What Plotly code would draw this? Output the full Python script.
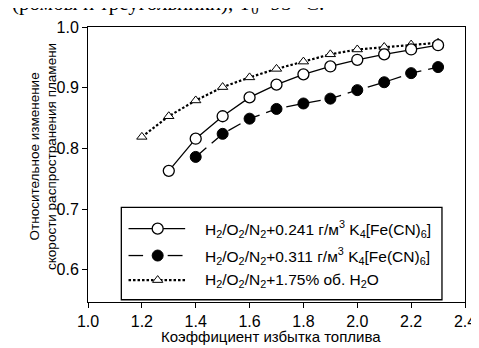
import plotly.graph_objects as go

# ---- data ----
x_241 = [1.3, 1.4, 1.5, 1.6, 1.7, 1.8, 1.9, 2.0, 2.1, 2.2, 2.3]
y_241 = [0.763, 0.816, 0.853, 0.884, 0.905, 0.922, 0.935, 0.946, 0.955, 0.963, 0.970]

x_311 = [1.4, 1.5, 1.6, 1.7, 1.8, 1.9, 2.0, 2.1, 2.2, 2.3]
y_311 = [0.786, 0.824, 0.849, 0.865, 0.874, 0.882, 0.896, 0.909, 0.924, 0.934]

x_h2o = [1.2, 1.3, 1.4, 1.5, 1.6, 1.7, 1.8, 1.9, 2.0, 2.1, 2.2, 2.3]
y_h2o = [0.819, 0.853, 0.879, 0.901, 0.917, 0.931, 0.943, 0.955, 0.963, 0.967, 0.971, 0.974]

legend_labels = [
    "H<sub>2</sub>/O<sub>2</sub>/N<sub>2</sub>+0.241 г/м<sup>3</sup> K<sub>4</sub>[Fe(CN)<sub>6</sub>]",
    "H<sub>2</sub>/O<sub>2</sub>/N<sub>2</sub>+0.311 г/м<sup>3</sup> K<sub>4</sub>[Fe(CN)<sub>6</sub>]",
    "H<sub>2</sub>/O<sub>2</sub>/N<sub>2</sub>+1.75% об. H<sub>2</sub>O",
]
x_ticks = [1.0, 1.2, 1.4, 1.6, 1.8, 2.0, 2.2, 2.4]
y_ticks = [0.6, 0.7, 0.8, 0.9, 1.0]
x_title = "Коэффициент избытка топлива"
y_title = "Относительное изменение<br>скорости распространения пламени"
top_text = "(ромбы и треугольники), T<sub>0</sub>=95 °C."

W, H = 479, 348
ML, MR, MT, MB = 80, 11, 14, 54
PW, PH = W - ML - MR, H - MT - MB


def px(x):
    return (x - ML) / PW


def py(y):
    return (H - MB - y) / PH


FONT = "Liberation Sans, Arial, sans-serif"
BLACK = "black"

fig = go.Figure()

fig.add_trace(go.Scatter(
    x=x_h2o, y=y_h2o, mode="lines+markers",
    line=dict(color=BLACK, width=2.2, dash="2.5px,2px"),
    marker=dict(symbol="triangle-up", size=9, color="white", line=dict(color=BLACK, width=1)),
    showlegend=False))
fig.add_trace(go.Scatter(
    x=x_311, y=y_311, mode="lines+markers",
    line=dict(color=BLACK, width=1.3, dash="14px,7px"),
    marker=dict(symbol="circle", size=11, color=BLACK, line=dict(color=BLACK, width=1)),
    showlegend=False))
fig.add_trace(go.Scatter(
    x=x_241, y=y_241, mode="lines+markers",
    line=dict(color=BLACK, width=1.3),
    marker=dict(symbol="circle", size=11, color="white", line=dict(color=BLACK, width=1.3)),
    showlegend=False))

# ---- manual legend (on overlay axes spanning the plot area) ----
row_y = [py(219.3), py(246.7), py(271.7)]
lx0, lx1, lxc = px(121.7), px(180), px(151.7)
fig.add_shape(type="rect", xref="paper", yref="paper",
              x0=px(114.3), x1=px(444.3), y0=py(291.7), y1=py(197.7),
              line=dict(color=BLACK, width=1.3), fillcolor="white", layer="below")

fig.add_trace(go.Scatter(x=[lx0, lx1], y=[row_y[0]] * 2, xaxis="x2", yaxis="y2", mode="lines",
                         line=dict(color=BLACK, width=1.3), showlegend=False, hoverinfo="skip"))
fig.add_trace(go.Scatter(x=[lxc], y=[row_y[0]], xaxis="x2", yaxis="y2", mode="markers",
                         marker=dict(symbol="circle", size=11, color="white", line=dict(color=BLACK, width=1.3)),
                         showlegend=False, hoverinfo="skip"))
fig.add_trace(go.Scatter(x=[lx0, px(136.7), None, px(162), px(177.3)], y=[row_y[1]] * 5,
                         xaxis="x2", yaxis="y2", mode="lines",
                         line=dict(color=BLACK, width=1.3), showlegend=False, hoverinfo="skip"))
fig.add_trace(go.Scatter(x=[lxc], y=[row_y[1]], xaxis="x2", yaxis="y2", mode="markers",
                         marker=dict(symbol="circle", size=11, color=BLACK, line=dict(color=BLACK, width=1)),
                         showlegend=False, hoverinfo="skip"))
fig.add_trace(go.Scatter(x=[lx0, lx1], y=[row_y[2]] * 2, xaxis="x2", yaxis="y2", mode="lines",
                         line=dict(color=BLACK, width=2.2, dash="2.5px,2px"), showlegend=False, hoverinfo="skip"))
fig.add_trace(go.Scatter(x=[lxc], y=[row_y[2]], xaxis="x2", yaxis="y2", mode="markers",
                         marker=dict(symbol="triangle-up", size=9, color="white", line=dict(color=BLACK, width=1)),
                         showlegend=False, hoverinfo="skip"))

for lab, yy in zip(legend_labels, row_y):
    fig.add_annotation(text=lab, xref="paper", yref="paper", x=px(198), y=yy,
                       xanchor="left", yanchor="middle", showarrow=False,
                       font=dict(family=FONT, size=15.5, color=BLACK))

fig.add_annotation(text=y_title, xref="paper", yref="paper", x=px(34), y=py(146),
                   xanchor="center", yanchor="middle", textangle=-90, showarrow=False,
                   font=dict(family=FONT, size=13.5, color=BLACK))
fig.add_annotation(text=x_title, xref="paper", yref="paper", x=px(268), y=py(329),
                   xanchor="center", yanchor="middle", showarrow=False,
                   font=dict(family=FONT, size=15, color=BLACK))
fig.add_annotation(text=top_text, xref="paper", yref="paper", x=px(0), y=py(6),
                   xanchor="left", yanchor="bottom", showarrow=False,
                   font=dict(family="Liberation Serif, Times New Roman, serif", size=21, color=BLACK))

axis_common = dict(showgrid=False, zeroline=False, showline=True, linecolor=BLACK, linewidth=1,
                   mirror=True, ticks="outside", ticklen=5, tickwidth=1, tickcolor=BLACK,
                   tickfont=dict(family=FONT, size=16, color=BLACK))

fig.update_layout(
    width=W, height=H, margin=dict(l=ML, r=MR, t=MT, b=MB),
    plot_bgcolor="white", paper_bgcolor="white", showlegend=False,
    xaxis=dict(range=[1.0, 2.4], tickvals=x_ticks, ticktext=[f"{v:.1f}" for v in x_ticks],
               **axis_common),
    yaxis=dict(range=[0.547, 1.0], tickvals=y_ticks, ticktext=[f"{v:.1f}" for v in y_ticks],
               **axis_common),
    xaxis2=dict(overlaying="x", range=[0, 1], visible=False, fixedrange=True),
    yaxis2=dict(overlaying="y", range=[0, 1], visible=False, fixedrange=True),
)

fig.write_html("out.html")
